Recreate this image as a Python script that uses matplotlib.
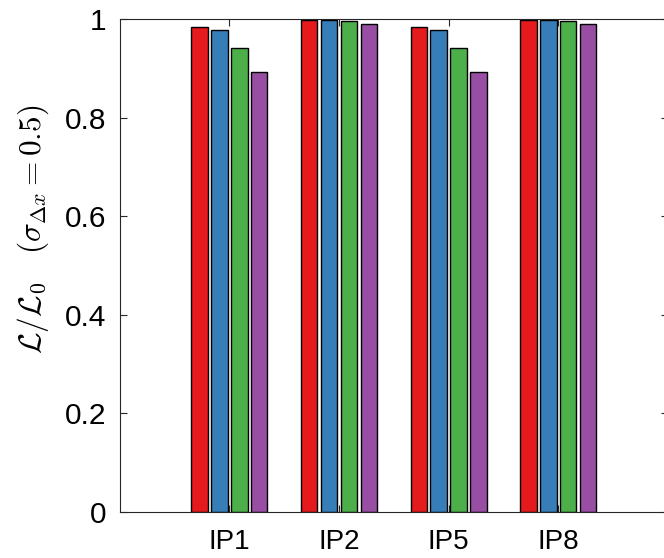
import numpy as np
import matplotlib
matplotlib.use('Agg')
import matplotlib.pyplot as plt

# values
categories = ['IP1', 'IP2', 'IP5', 'IP8']
series_red = [0.984, 0.997, 0.984, 0.997]
series_blue = [0.977, 0.997, 0.977, 0.997]
series_green = [0.941, 0.995, 0.941, 0.995]
series_purple = [0.892, 0.990, 0.892, 0.989]
colors = ['#e41a1c', '#377eb8', '#4daf4a', '#984ea3']

plt.rcParams['font.family'] = ['Liberation Sans', 'DejaVu Sans']
plt.rcParams['mathtext.fontset'] = 'cm'

fig = plt.figure(figsize=(6.64, 5.58), dpi=100)
# right spine sits just outside the picture, as in the reference
ax = fig.add_axes([119.8 / 664, 46 / 558, 548 / 664, 493 / 558])

x = np.arange(1, len(categories) + 1)
width = 0.15
step = 0.181
all_series = [series_red, series_blue, series_green, series_purple]
for i, vals in enumerate(all_series):
    off = (i - 1.5) * step
    ax.bar(x + off, vals, width, color=colors[i], edgecolor='black', linewidth=1.0)

ax.set_xlim(0, 5)
ax.set_ylim(0, 1)
ax.set_xticks(x)
ax.set_xticklabels(categories)
ax.set_yticks([0, 0.2, 0.4, 0.6, 0.8, 1])
ax.set_yticklabels(['0', '0.2', '0.4', '0.6', '0.8', '1'])
ax.tick_params(direction='in', length=5, width=0.8, color='#262626',
               right=True, top=True)
ax.tick_params(axis='y', labelsize=21.5, pad=10)
ax.tick_params(axis='x', labelsize=20, pad=12)
for s in ax.spines.values():
    s.set_color('#262626')
    s.set_linewidth(0.8)

fig.text(33 / 664, 1 - 229 / 558, r'$\mathcal{L}/\mathcal{L}_0\quad(\sigma_{\Delta x}=0.5)$',
         rotation=90, ha='center', va='center', fontsize=22.5)

fig.savefig('out.png', dpi=100)
